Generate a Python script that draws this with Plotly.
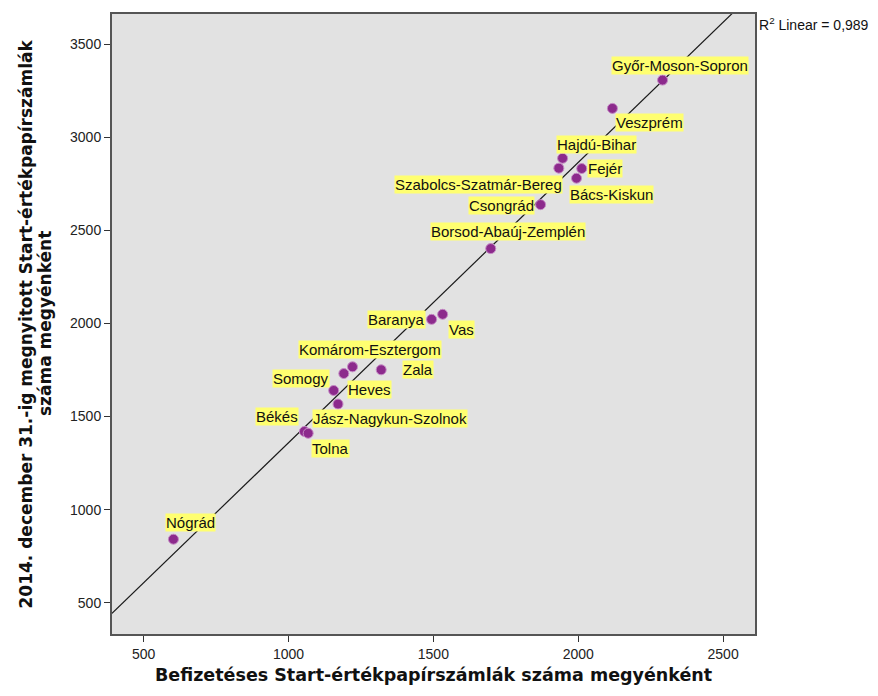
import numpy as np
import plotly.graph_objects as go

counties = ["Győr-Moson-Sopron", "Veszprém", "Hajdú-Bihar", "Szabolcs-Szatmár-Bereg", "Fejér",
            "Bács-Kiskun", "Csongrád", "Borsod-Abaúj-Zemplén", "Baranya", "Vas",
            "Komárom-Esztergom", "Somogy", "Zala", "Heves", "Jász-Nagykun-Szolnok",
            "Békés", "Tolna", "Nógrád"]
befizeteses = [2291, 2118, 1946, 1933, 2012, 1994, 1870, 1698, 1494, 1532,
               1221, 1191, 1320, 1156, 1171, 1055, 1068, 603]
megnyitott = [3307, 3155, 2887, 2834, 2832, 2780, 2638, 2402, 2022, 2049,
              1767, 1731, 1751, 1640, 1567, 1420, 1410, 841]
# label offsets in pixels (dx, dy-up)
label_dx = [17, 37, 34, -80, 23, 35, -39, 17, -35, 19, 17, -43, 37, 36, 52, -27, 22, 17]
label_dy = [15, -14, 14, -16, 0, -16, -1, 17, 0, -15, 17, -5, 0, 1, -14, 15, -15, 17]

x_range = [391, 2610]
y_range = [332, 3662]
x_ticks = [500, 1000, 1500, 2000, 2500]
y_ticks = [500, 1000, 1500, 2000, 2500, 3000, 3500]

x_title = "Befizetéses Start-értékpapírszámlák száma megyénként"
y_title_lines = ["2014. december 31.-ig megnyitott Start-értékpapírszámlák", "száma megyénként"]
r2_text = "R<sup>2</sup> Linear = 0,989"

x = np.array(befizeteses, dtype=float)
y = np.array(megnyitott, dtype=float)
slope, intercept = np.polyfit(x, y, 1)
lx = np.array(x_range, dtype=float)
ly = slope * lx + intercept

fig = go.Figure()
fig.add_trace(go.Scatter(x=lx, y=ly, mode="lines",
                         line=dict(color="#1a1a1a", width=1.2),
                         hoverinfo="skip", showlegend=False))
fig.add_trace(go.Scatter(x=befizeteses, y=megnyitott, mode="markers",
                         marker=dict(size=10, color="#8C2A8C",
                                     line=dict(color="#C58AC5", width=1)),
                         text=counties, showlegend=False))

lab_font = dict(family="Liberation Sans, Arial", size=15, color="#111111")
annotations = []
for name, xv, yv, dx, dy in zip(counties, befizeteses, megnyitott, label_dx, label_dy):
    annotations.append(dict(x=xv, y=yv, xref="x", yref="y", text=name, showarrow=False,
                            xshift=dx, yshift=dy, bgcolor="#FFFF70", borderpad=0,
                            font=lab_font))
annotations.append(dict(x=1, y=1, xref="paper", yref="paper", xanchor="left", yanchor="middle",
                        xshift=2, yshift=-10, showarrow=False, text=r2_text,
                        font=dict(family="Liberation Sans, Arial", size=14, color="#111111")))
# x axis title
annotations.append(dict(x=0.5, y=0, xref="paper", yref="paper", xanchor="center", yanchor="middle",
                        yshift=-41, showarrow=False, text="<b>" + x_title + "</b>",
                        font=dict(family="DejaVu Sans", size=17.5, color="#111111")))
# y axis title (two lines)
for line_txt, xs in zip(y_title_lines, [-86.5, -67]):
    annotations.append(dict(x=0, y=0.5, xref="paper", yref="paper", xanchor="center", yanchor="middle",
                            xshift=xs, showarrow=False, textangle=-90, text="<b>" + line_txt + "</b>",
                            font=dict(family="DejaVu Sans", size=17, color="#111111")))

fig.update_layout(
    width=870, height=688,
    margin=dict(l=104, r=123, t=4, b=62),
    paper_bgcolor="white", plot_bgcolor="#E2E2E2",
    annotations=annotations,
    font=dict(family="Liberation Sans, Arial", size=14, color="#222222"),
)
fig.update_xaxes(range=x_range, tickvals=x_ticks, showgrid=False, zeroline=False,
                 showline=True, mirror=True, linecolor="#555555", linewidth=2,
                 ticks="outside", ticklen=6, tickcolor="#333333",
                 tickfont=dict(family="Liberation Sans, Arial", size=14, color="#222222"))
fig.update_yaxes(range=y_range, tickvals=y_ticks, showgrid=False, zeroline=False,
                 showline=True, mirror=True, linecolor="#555555", linewidth=2,
                 ticks="outside", ticklen=6, tickcolor="#333333",
                 tickfont=dict(family="Liberation Sans, Arial", size=14, color="#222222"))

fig.write_html("out.html")
